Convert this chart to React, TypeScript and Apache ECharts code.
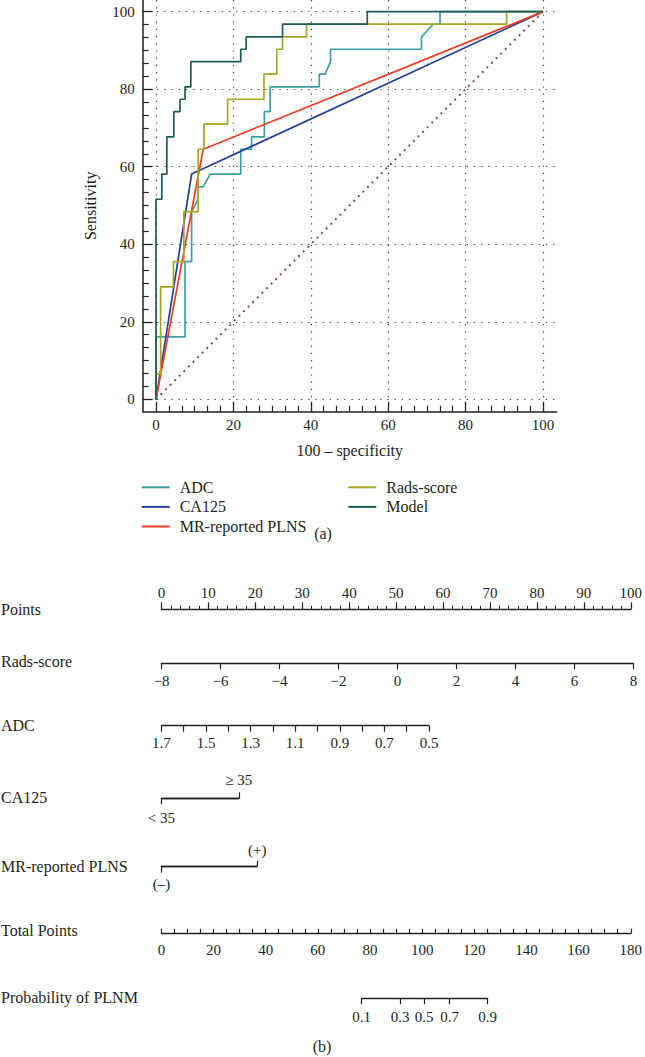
import React, { useEffect, useRef } from "react";
import * as echarts from "echarts";

// ---------- (a) ROC data ----------
const rocTicks = [0, 20, 40, 60, 80, 100];

const adcCurve: [number, number][] = [
  [0, 0], [0, 16.1], [7.5, 16.1], [7.5, 35.5], [9.2, 35.5], [9.2, 48.4], [10.9, 51.6], [10.9, 54.8],
  [12.2, 54.8], [14.0, 58.1], [21.9, 58.1], [21.9, 64.5], [24.7, 64.5], [24.7, 67.7], [28.0, 67.7],
  [28.0, 74.2], [29.5, 74.2], [29.5, 80.6], [42.2, 80.6], [42.2, 83.9], [43.7, 83.9], [45.1, 87.1],
  [45.1, 90.3], [68.6, 90.3], [68.6, 93.5], [71.7, 96.8], [73.4, 96.8], [73.4, 100], [100, 100],
];
const ca125Curve: [number, number][] = [[0, 0], [9.2, 58.1], [100, 100]];
const mrCurve: [number, number][] = [[0, 0], [12.2, 64.5], [100, 100]];
const radsCurve: [number, number][] = [
  [0, 0], [0, 6.5], [1.2, 6.5], [1.2, 29.0], [4.5, 29.0], [4.5, 35.5], [7.2, 35.5], [7.2, 48.4],
  [10.9, 48.4], [10.9, 64.5], [12.4, 64.5], [12.4, 71.0], [18.5, 71.0], [18.5, 77.4], [27.9, 77.4],
  [27.9, 83.9], [31.2, 83.9], [31.2, 90.3], [32.7, 90.3], [32.7, 93.5], [38.9, 93.5], [38.9, 96.8],
  [90.6, 96.8], [90.6, 100], [100, 100],
];
const modelCurve: [number, number][] = [
  [0, 0], [0, 51.6], [1.5, 51.6], [1.5, 58.1], [2.8, 58.1], [2.8, 67.7], [4.6, 67.7], [4.6, 74.2],
  [6.2, 74.2], [6.2, 77.4], [7.5, 77.4], [7.5, 80.6], [9.0, 80.6], [9.0, 87.1], [21.9, 87.1],
  [21.9, 90.3], [23.3, 90.3], [23.3, 93.5], [32.7, 93.5], [32.7, 96.8], [54.6, 96.8], [54.6, 100],
  [100, 100],
];
const refLine: [number, number][] = [[0, 0], [100, 100]];

// ---------- (b) nomogram data ----------
const rowNames = ["Points", "Rads-score", "ADC", "CA125", "MR-reported PLNS", "Total Points", "Probability of PLNM"];
const pointsRange = [0, 100];
const radsRange = [-8, 8];
const adcTicks = [0.5, 0.6, 0.7, 0.8, 0.9, 1.0, 1.1, 1.2, 1.3, 1.4, 1.5, 1.6, 1.7];
const adcLabels = [1.7, 1.5, 1.3, 1.1, 0.9, 0.7, 0.5];
const adcMaxPoints = 56.7;
const ca125Levels = ["< 35", "≥ 35"];
const ca125Points = [0, 16.4];
const mrLevels = ["(–)", "(+)"];
const mrPoints = [0, 20.3];
const totalRange = [0, 180];
const probLabels = ["0.1", "0.3", "0.5", "0.7", "0.9"];
const probTotalPoints = [76.4, 91.0, 100.2, 109.9, 124.4];

const FONT = '"Liberation Serif", "Times New Roman", serif';
const TXT = "#231f20";
const AX = "#222";

export default function App() {
  const ref = useRef<HTMLDivElement>(null);

  useEffect(() => {
    if (!ref.current) return;
    const chart = echarts.init(ref.current, undefined, { renderer: "svg" });

    // layout constants
    const rocLeft = 142.7, rocTop = 0, rocW = 414, rocH = 411.7;
    const xMin = -3.44, xMax = 103.55, yMin = -3.2, yMax = 103.0;
    const nomoLeft = 161.4, nomoW = 472;
    const pxPerPoint = nomoW / (pointsRange[1] - pointsRange[0]);
    const pxPerTotal = nomoW / (totalRange[1] - totalRange[0]);

    const minorOf = (majors: number[]) => {
      const out: number[] = [];
      for (let i = 0; i < majors.length - 1; i++) {
        const step = (majors[i + 1] - majors[i]) / 6;
        for (let k = 1; k < 6; k++) out.push(majors[i] + step * k);
      }
      return out;
    };
    const rocMinor = minorOf(rocTicks);

    const tickLabel = { fontSize: 15, fontFamily: FONT, color: TXT };
    const axLine = { show: true, onZero: false, lineStyle: { color: AX, width: 1.3 } };
    const hiddenY = (gi: number) => ({ gridIndex: gi, type: "value", show: false, min: 0, max: 1 });

    const rowY = [609.3, 663.3, 725.7, 798.3, 866.7, 933.3, 998.3];
    const nameY = [609.3, 661.7, 725.7, 797.7, 866.7, 930, 997.7];

    const grids: any[] = [
      { left: rocLeft, top: rocTop, width: rocW, height: rocH },
      { left: nomoLeft, top: rowY[0], width: nomoW, height: 0 },
      { left: nomoLeft, top: rowY[1], width: nomoW, height: 0 },
      { left: nomoLeft, top: rowY[2], width: adcMaxPoints * pxPerPoint, height: 0 },
      { left: nomoLeft, top: rowY[3], width: ca125Points[1] * pxPerPoint, height: 0 },
      { left: nomoLeft, top: rowY[4], width: mrPoints[1] * pxPerPoint, height: 0 },
      { left: nomoLeft, top: rowY[5], width: nomoW, height: 0 },
      {
        left: nomoLeft + probTotalPoints[0] * pxPerTotal,
        top: rowY[6],
        width: (probTotalPoints[probTotalPoints.length - 1] - probTotalPoints[0]) * pxPerTotal,
        height: 0,
      },
    ];

    const xAxes: any[] = [
      {
        gridIndex: 0, type: "value", min: xMin, max: xMax, position: "bottom",
        axisLine: { ...axLine, lineStyle: { color: AX, width: 1.5 } },
        axisTick: { show: true, inside: true, length: 10, customValues: rocTicks, lineStyle: { color: AX, width: 1.3 } },
        axisLabel: { customValues: rocTicks, margin: 6, ...tickLabel },
        splitLine: { show: true, lineStyle: { type: [1.2, 6], color: "#333", width: 1.2 } },
        name: "100 – specificity", nameLocation: "middle", nameGap: 31,
        nameTextStyle: { fontSize: 16, fontFamily: FONT, color: TXT },
      },
      {
        gridIndex: 0, type: "value", min: xMin, max: xMax, position: "bottom",
        axisLine: { show: false, onZero: false },
        axisTick: { show: true, inside: true, length: 6, customValues: rocMinor, lineStyle: { color: AX, width: 1.2 } },
        axisLabel: { show: false }, splitLine: { show: false },
      },
      // Points
      {
        gridIndex: 1, type: "value", min: pointsRange[0], max: pointsRange[1], interval: 10, position: "top",
        axisLine: axLine,
        axisTick: { show: true, length: 7, lineStyle: { color: AX, width: 1.2 } },
        minorTick: { show: true, splitNumber: 5, length: 3.5, lineStyle: { color: AX, width: 1 } },
        axisLabel: { margin: 9, ...tickLabel }, splitLine: { show: false },
      },
      // Rads-score
      {
        gridIndex: 2, type: "value", min: radsRange[0], max: radsRange[1], interval: 2, position: "bottom",
        axisLine: axLine,
        axisTick: { show: true, length: 6, lineStyle: { color: AX, width: 1.2 } },
        axisLabel: { margin: 10, ...tickLabel, formatter: (v: number) => String(v).replace("-", "−") },
        splitLine: { show: false },
      },
      // ADC
      {
        gridIndex: 3, type: "value", min: adcTicks[0], max: adcTicks[adcTicks.length - 1], inverse: true, position: "bottom",
        axisLine: axLine,
        axisTick: { show: true, length: 6, customValues: adcTicks, lineStyle: { color: AX, width: 1.2 } },
        axisLabel: { margin: 10, customValues: adcLabels, ...tickLabel, formatter: (v: number) => v.toFixed(1) },
        splitLine: { show: false },
      },
      // CA125 low
      {
        gridIndex: 4, type: "value", min: ca125Points[0], max: ca125Points[1], position: "bottom",
        axisLine: axLine,
        axisTick: { show: true, length: 6, customValues: [ca125Points[0]], lineStyle: { color: AX, width: 1.2 } },
        axisLabel: { margin: 12, customValues: [ca125Points[0]], ...tickLabel, formatter: () => ca125Levels[0] },
        splitLine: { show: false },
      },
      // CA125 high
      {
        gridIndex: 4, type: "value", min: ca125Points[0], max: ca125Points[1], position: "top",
        axisLine: axLine,
        axisTick: { show: true, length: 6, customValues: [ca125Points[1]], lineStyle: { color: AX, width: 1.2 } },
        axisLabel: { margin: 11, customValues: [ca125Points[1]], ...tickLabel, formatter: () => ca125Levels[1] },
        splitLine: { show: false },
      },
      // MR low
      {
        gridIndex: 5, type: "value", min: mrPoints[0], max: mrPoints[1], position: "bottom",
        axisLine: axLine,
        axisTick: { show: true, length: 6, customValues: [mrPoints[0]], lineStyle: { color: AX, width: 1.2 } },
        axisLabel: { margin: 10, customValues: [mrPoints[0]], ...tickLabel, formatter: () => mrLevels[0] },
        splitLine: { show: false },
      },
      // MR high
      {
        gridIndex: 5, type: "value", min: mrPoints[0], max: mrPoints[1], position: "top",
        axisLine: axLine,
        axisTick: { show: true, length: 6, customValues: [mrPoints[1]], lineStyle: { color: AX, width: 1.2 } },
        axisLabel: { margin: 9, customValues: [mrPoints[1]], ...tickLabel, formatter: () => mrLevels[1] },
        splitLine: { show: false },
      },
      // Total points
      {
        gridIndex: 6, type: "value", min: totalRange[0], max: totalRange[1], interval: 20, position: "bottom",
        axisLine: axLine,
        axisTick: { show: true, inside: true, length: 4.5, lineStyle: { color: AX, width: 1.2 } },
        minorTick: { show: true, splitNumber: 4, length: 4.5, lineStyle: { color: AX, width: 1.2 } },
        axisLabel: { margin: 9, ...tickLabel }, splitLine: { show: false },
      },
      // Probability
      {
        gridIndex: 7, type: "value", min: probTotalPoints[0], max: probTotalPoints[probTotalPoints.length - 1], position: "bottom",
        axisLine: axLine,
        axisTick: { show: true, length: 6, customValues: probTotalPoints, lineStyle: { color: AX, width: 1.2 } },
        axisLabel: {
          margin: 11, customValues: probTotalPoints, ...tickLabel,
          formatter: (v: number) => {
            let best = 0;
            probTotalPoints.forEach((p, i) => { if (Math.abs(p - v) < Math.abs(probTotalPoints[best] - v)) best = i; });
            return probLabels[best];
          },
        },
        splitLine: { show: false },
      },
    ];

    const yAxes: any[] = [
      {
        gridIndex: 0, type: "value", min: yMin, max: yMax, position: "left",
        axisLine: { ...axLine, lineStyle: { color: AX, width: 1.5 } },
        axisTick: { show: true, inside: true, length: 10, customValues: rocTicks, lineStyle: { color: AX, width: 1.3 } },
        axisLabel: { customValues: rocTicks, margin: 8, ...tickLabel },
        splitLine: { show: true, lineStyle: { type: [1.2, 6], color: "#333", width: 1.2 } },
        name: "Sensitivity", nameLocation: "middle", nameGap: 44, nameRotate: 90,
        nameTextStyle: { fontSize: 16, fontFamily: FONT, color: TXT },
      },
      {
        gridIndex: 0, type: "value", min: yMin, max: yMax, position: "left",
        axisLine: { show: false, onZero: false },
        axisTick: { show: true, inside: true, length: 6, customValues: rocMinor, lineStyle: { color: AX, width: 1.2 } },
        axisLabel: { show: false }, splitLine: { show: false },
      },
      hiddenY(1), hiddenY(2), hiddenY(3), hiddenY(4), hiddenY(5), hiddenY(6), hiddenY(7),
    ];

    const lineSeries = (name: string, data: [number, number][], color: string, z: number) => ({
      name, type: "line", xAxisIndex: 0, yAxisIndex: 0, data, color, showSymbol: false, symbol: "none",
      lineStyle: { color, width: 1.7 }, z, silent: true,
    });

    const series: any[] = [
      {
        name: "ref", type: "line", xAxisIndex: 0, yAxisIndex: 0, data: refLine, showSymbol: false, symbol: "none",
        lineStyle: { color: "#8a4a58", width: 2, type: [2, 4.5] }, z: 1, silent: true,
      },
      lineSeries("ADC", adcCurve, "#3c9fa6", 2),
      lineSeries("CA125", ca125Curve, "#233f97", 3),
      lineSeries("MR-reported PLNS", mrCurve, "#ee3d22", 4),
      lineSeries("Rads-score", radsCurve, "#a8a622", 5),
      lineSeries("Model", modelCurve, "#1d5c58", 6),
    ];

    const legendBase = {
      orient: "vertical", icon: "rect", itemWidth: 28, itemHeight: 2, itemGap: 3.6, padding: 0,
      selectedMode: false, top: 479.3,
      textStyle: { fontSize: 16, fontFamily: FONT, color: TXT, lineHeight: 16, padding: [0, 0, 0, 5] },
    };

    const texts: any[] = rowNames.map((t, i) => ({
      type: "text", x: 1, y: nameY[i],
      style: { text: t, fontSize: 16, fontFamily: FONT, fill: TXT, align: "left", verticalAlign: "middle" },
    }));
    texts.push({
      type: "text", x: 323, y: 533,
      style: { text: "(a)", fontSize: 16, fontFamily: FONT, fill: TXT, align: "center", verticalAlign: "middle" },
    });
    texts.push({
      type: "text", x: 322, y: 1046.5,
      style: { text: "(b)", fontSize: 16, fontFamily: FONT, fill: TXT, align: "center", verticalAlign: "middle" },
    });

    chart.setOption({
      animation: false,
      backgroundColor: "#ffffff",
      grid: grids,
      xAxis: xAxes,
      yAxis: yAxes,
      legend: [
        { ...legendBase, left: 141.7, data: ["ADC", "CA125", "MR-reported PLNS"] },
        { ...legendBase, left: 348.3, data: ["Rads-score", "Model"] },
      ],
      series,
      graphic: texts,
    });

    return () => chart.dispose();
  }, []);

  return (
    <div
      ref={ref}
      style={{ position: "absolute", left: 0, top: 0, width: 645, height: 1057, background: "#fff" }}
    />
  );
}
